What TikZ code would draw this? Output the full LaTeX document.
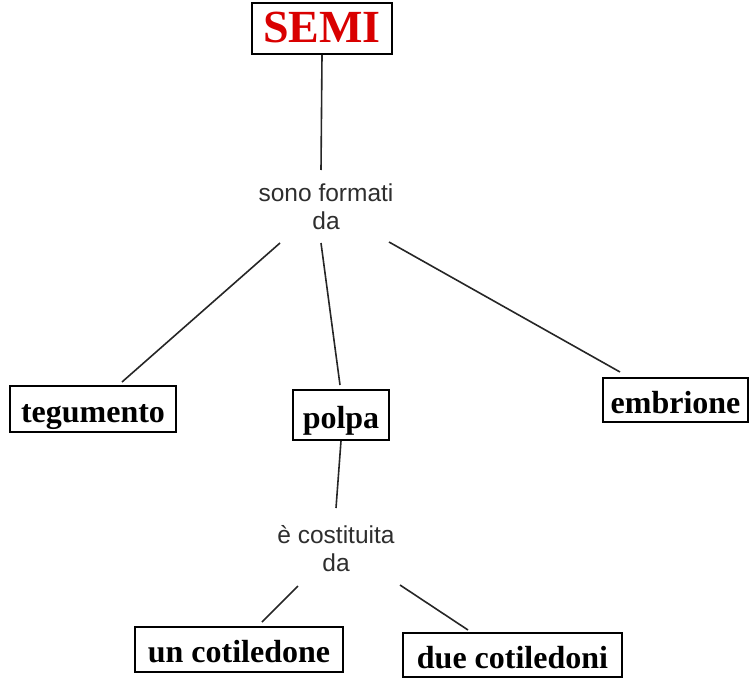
\documentclass[tikz,border=0pt]{standalone}
\usepackage{fontspec}
\setmainfont{Liberation Serif}
\newfontfamily\lblfont{Liberation Sans}
\begin{document}
\begin{tikzpicture}[x=1pt,y=-1pt,
  box/.style={draw=black,line width=1.6pt,fill=white,inner sep=0pt,
    font=\fontsize{32}{36}\selectfont\bfseries,text height=28pt,text depth=2pt},
  lbl/.style={align=center,inner sep=0pt,font=\lblfont\fontsize{24.5}{28}\selectfont,text=black!82},
  conn/.style={line width=1.6pt,draw=black!85}]
\useasboundingbox (0,0) rectangle (751,677);
\node[box,minimum width=140pt,minimum height=51pt,text=red!85!black,
  font=\fontsize{46}{50}\selectfont\bfseries,text height=31pt,text depth=2pt] (semi) at (322,28.5) {SEMI};
\node[lbl] (l1) at (326,207) {sono formati\\da};
\node[box,minimum width=166pt,minimum height=46pt] (teg) at (93,409) {tegumento};
\node[box,minimum width=96pt,minimum height=50pt] (polpa) at (341,415) {polpa};
\node[box,minimum width=145pt,minimum height=44pt] (emb) at (675.5,400) {embrione};
\node[lbl] (l2) at (336,549) {è costituita\\da};
\node[box,minimum width=208pt,minimum height=45pt] (un) at (239,649.5) {un cotiledone};
\node[box,minimum width=219pt,minimum height=44pt] (due) at (512.5,655) {due cotiledoni};
\coordinate (a1) at (321,170);
\coordinate (b1) at (280,243);
\coordinate (b2) at (321,243);
\coordinate (b3) at (389,242);
\coordinate (t1) at (122,382);
\coordinate (t2) at (340,385);
\coordinate (t3) at (620,372);
\coordinate (c0) at (336,508);
\coordinate (c1) at (298,586);
\coordinate (c2) at (400,585);
\coordinate (u1) at (262,622);
\coordinate (d1) at (468,630);
\draw[conn] (semi.south) -- (a1);
\draw[conn] (b1) -- (t1);
\draw[conn] (b2) -- (t2);
\draw[conn] (b3) -- (t3);
\draw[conn] (polpa.south) -- (c0);
\draw[conn] (c1) -- (u1);
\draw[conn] (c2) -- (d1);
\end{tikzpicture}
\end{document}
